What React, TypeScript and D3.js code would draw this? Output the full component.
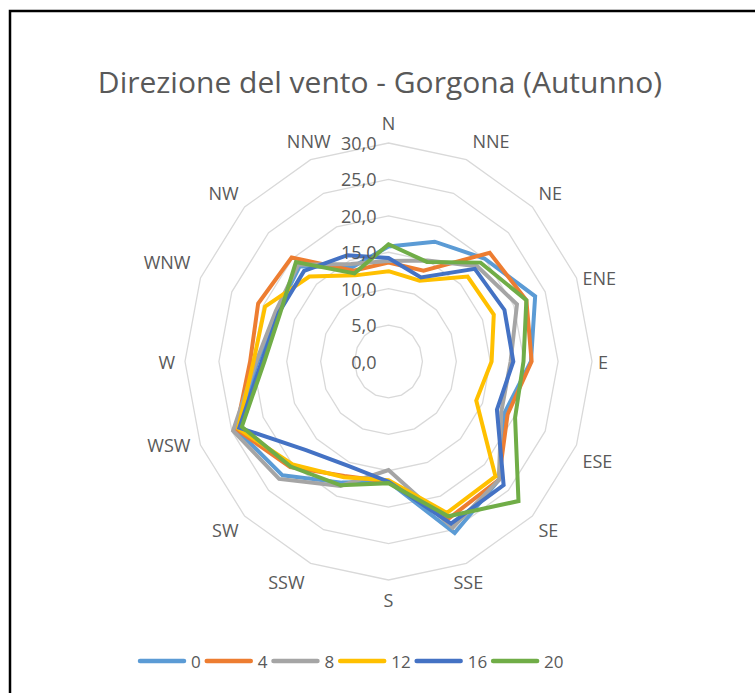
import React, { useEffect, useRef } from 'react';
import * as d3 from 'd3';

const directions = ['N', 'NNE', 'NE', 'ENE', 'E', 'ESE', 'SE', 'SSE', 'S', 'SSW', 'SW', 'WSW', 'W', 'WNW', 'NW', 'NNW'];
const seriesNames = ['0', '4', '8', '12', '16', '20'];
const seriesColors = ['#5B9BD5', '#ED7D31', '#A5A5A5', '#FFC000', '#4472C4', '#70AD47'];

// frequency per direction, one array per hour
const h0 = [15.8, 17.8, 20.0, 23.4, 21.0, 18.5, 23.0, 25.5, 16.5, 18.0, 22.1, 24.3, 19.3, 17.8, 18.5, 14.0];
const h4 = [13.6, 13.5, 21.1, 22.0, 21.1, 19.0, 23.0, 23.3, 16.5, 17.0, 20.5, 24.3, 20.4, 20.8, 20.2, 13.5];
const h8 = [13.8, 15.0, 18.5, 20.5, 18.0, 18.0, 23.0, 24.7, 14.9, 18.5, 22.8, 24.8, 19.5, 18.0, 18.8, 14.5];
const h12 = [12.4, 12.0, 16.5, 16.8, 15.2, 14.0, 22.3, 22.5, 16.3, 17.2, 20.0, 24.0, 19.9, 19.7, 16.5, 12.8];
const h16 = [14.2, 12.5, 18.0, 18.5, 18.4, 17.3, 24.0, 24.1, 16.5, 15.5, 17.2, 23.8, 18.7, 17.5, 17.6, 15.8];
const h20 = [16.1, 14.8, 19.2, 22.0, 19.9, 20.2, 27.1, 23.0, 16.7, 18.4, 20.4, 23.4, 18.3, 17.3, 19.3, 13.1];
const seriesValues = [h0, h4, h8, h12, h16, h20];

const ticks = [0, 5, 10, 15, 20, 25, 30];

const App = () => {
  const svgRef = useRef<SVGSVGElement>(null);

  useEffect(() => {
    const width = 755;
    const height = 693;
    const cx = 388.5;
    const cy = 361.5;
    const textColor = '#595959';
    const font = "'Open Sans', sans-serif";

    const svg = d3.select(svgRef.current);
    svg.selectAll('*').remove();
    svg.attr('width', width).attr('height', height);

    svg.append('rect').attr('width', width).attr('height', height).attr('fill', '#fff');

    // frame (right and bottom edges fall outside the picture)
    svg.append('rect')
      .attr('x', 10).attr('y', 11)
      .attr('width', 900).attr('height', 900)
      .attr('fill', 'none')
      .attr('stroke', '#000')
      .attr('stroke-width', 2.5);

    svg.append('text')
      .attr('x', 380).attr('y', 81)
      .attr('text-anchor', 'middle')
      .attr('dominant-baseline', 'central')
      .attr('font-family', font)
      .attr('font-size', 30)
      .attr('fill', textColor)
      .text('Direzione del vento - Gorgona (Autunno)');

    const rx = d3.scaleLinear().domain([0, 30]).range([0, 203.5]);
    const ry = d3.scaleLinear().domain([0, 30]).range([0, 218.5]);
    const angle = d3.scaleLinear().domain([0, directions.length]).range([0, Math.PI * 2]);

    const pt = (v: number, i: number): [number, number] => {
      const a = angle(i);
      return [cx + rx(v) * Math.sin(a), cy - ry(v) * Math.cos(a)];
    };

    const line = d3.line().curve(d3.curveLinearClosed);

    // grid rings
    const g = svg.append('g');
    ticks.filter(t => t > 0).forEach(t => {
      g.append('path')
        .attr('d', line(directions.map((_, i) => pt(t, i))) as string)
        .attr('fill', 'none')
        .attr('stroke', '#D9D9D9')
        .attr('stroke-width', 1.3);
    });

    // direction labels
    directions.forEach((d, i) => {
      const a = angle(i);
      const s = Math.sin(a);
      const c = Math.cos(a);
      const [vx, vy] = pt(30, i);
      let anchor = 'middle';
      let x = vx;
      // Excel centres NNW and SSE on their spoke
      if (d === 'NNW' || d === 'SSE') {
        x = vx + s * 5;
      } else if (s > 0.01) {
        anchor = 'start'; x = vx + 6;
      } else if (s < -0.01) {
        anchor = 'end'; x = vx - (Math.abs(s) > 0.9 ? 10 : 6);
      }
      let y = vy - c * 20;
      if (Math.abs(s) > 0.9 && Math.abs(s) < 0.99) y += 8 * Math.sign(s);
      svg.append('text')
        .attr('x', x).attr('y', y)
        .attr('text-anchor', anchor)
        .attr('dominant-baseline', 'central')
        .attr('font-family', font)
        .attr('font-size', 18)
        .attr('fill', textColor)
        .text(d);
    });

    // series
    seriesValues.forEach((vals, k) => {
      svg.append('path')
        .attr('d', line(vals.map((v, i) => pt(v, i))) as string)
        .attr('fill', 'none')
        .attr('stroke', seriesColors[k])
        .attr('stroke-width', 4)
        .attr('stroke-linejoin', 'miter');
    });

    // value labels
    ticks.forEach(t => {
      svg.append('text')
        .attr('x', cx - 12)
        .attr('y', cy - ry(t))
        .attr('text-anchor', 'end')
        .attr('dominant-baseline', 'central')
        .attr('font-family', font)
        .attr('font-size', 18)
        .attr('fill', textColor)
        .text(t.toFixed(1).replace('.', ','));
    });

    // legend
    const legend = svg.append('g').attr('transform', 'translate(0, 661)');
    let lx = 140;
    seriesNames.forEach((name, k) => {
      legend.append('line')
        .attr('x1', lx).attr('x2', lx + 44)
        .attr('y1', 0).attr('y2', 0)
        .attr('stroke', seriesColors[k])
        .attr('stroke-width', 4.5)
        .attr('stroke-linecap', 'round');
      const txt = legend.append('text')
        .attr('x', lx + 51).attr('y', 0)
        .attr('dominant-baseline', 'central')
        .attr('font-family', font)
        .attr('font-size', 17)
        .attr('fill', textColor)
        .text(name);
      const w = (txt.node() as SVGTextElement).getComputedTextLength();
      lx = lx + 51 + w + 6;
    });
  }, []);

  return (
    <div style={{ position: 'absolute', left: 0, top: 0 }}>
      <svg ref={svgRef} style={{ display: 'block' }} />
    </div>
  );
};

export default App;
